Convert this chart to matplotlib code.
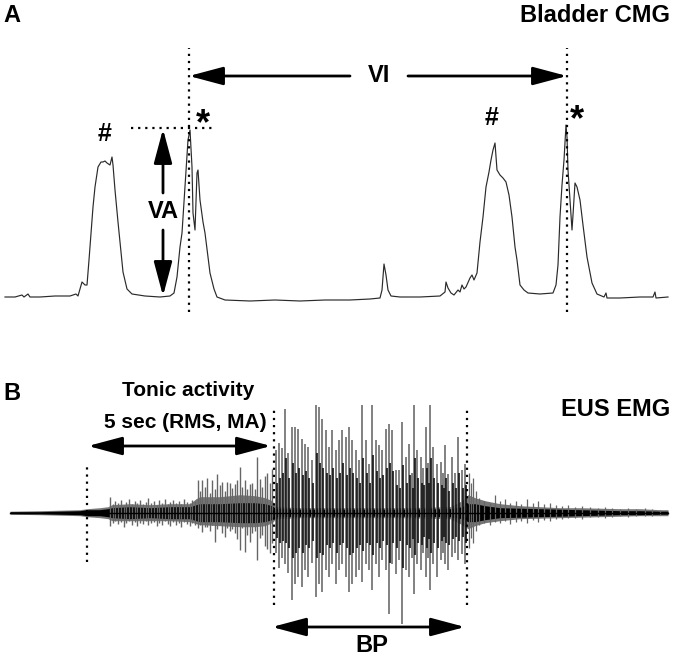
import numpy as np
import matplotlib
matplotlib.use('Agg')
import matplotlib.pyplot as plt

plt.rcParams['font.family'] = ['Liberation Sans', 'DejaVu Sans']

# Bladder CMG trace (sample index, pressure above baseline)
cmg_t = [5, 15, 22, 24, 28, 30, 40, 55, 70, 76, 78, 82, 85, 87, 89, 91, 93, 95, 98,
         101, 103, 105, 107, 110, 112, 113, 115, 118, 120, 123, 127, 132, 145, 160,
         170, 174, 177, 180, 182, 185, 188, 190, 192, 193, 195, 197, 198, 200, 203,
         205, 208, 210, 214, 217, 225, 250, 275, 300, 325, 350, 370, 380, 382, 384,
         386, 388, 391, 400, 420, 440, 445, 446, 448, 451, 454, 458, 460, 462, 464,
         466, 470, 472, 474, 477, 480, 483, 486, 489, 491, 493, 495, 497, 500, 503,
         506, 509, 512, 515, 517, 520, 524, 528, 540, 553, 556, 558, 560, 562, 564,
         566, 567, 568, 570, 572, 573, 575, 577, 580, 583, 587, 592, 597, 604, 606,
         607, 620, 640, 653, 655, 656, 668]
cmg_p = [0, 0, 2, 0, 3, 0, 0, 1, 1, 3, 1, 15, 12, 12, 37, 64, 90, 110, 130,
         135, 135, 136, 134, 132, 140, 132, 107, 75, 55, 25, 8, 3, 1, 0,
         1, 4, 20, 50, 64, 110, 157, 167, 130, 84, 67, 124, 127, 97, 75,
         64, 40, 24, 8, 0, -3, -4, -3, -4, -3, -3, -2, -1, 7, 33,
         22, 7, 1, 0, 0, 1, 5, 15, 9, 4, 2, 7, 5, 12, 8,
         10, 19, 22, 17, 24, 55, 80, 110, 125, 137, 147, 154, 127, 122, 119,
         115, 102, 80, 50, 37, 12, 7, 4, 3, 4, 12, 32, 80, 112, 137,
         172, 160, 127, 97, 67, 82, 114, 110, 97, 72, 40, 14, 3, 0, 4,
         -1, -1, 0, 0, 5, -1, 0]

# EUS EMG: dense activity envelope (sample index, amplitude)
env_t = [10, 40, 60, 80, 87, 100, 108, 112, 130, 150, 170, 190, 196, 200, 220, 240,
         255, 265, 272, 276, 300, 350, 400, 450, 462, 468, 475, 485, 500, 520, 540,
         560, 580, 600, 620, 640, 660, 668]
env_core = [1, 1, 1.5, 2, 3, 3, 4, 5, 6, 5, 6, 6, 8, 9, 9, 10,
            10, 9, 7, 4, 3.5, 3.5, 3.5, 4, 6, 9, 9, 7, 5, 4.5, 4,
            3.5, 3, 2.5, 2, 2, 1.5, 1.5]
env_up = [1.5, 2, 2.5, 3, 4, 5, 6, 8, 9, 8, 9, 9, 14, 16, 16, 18,
          17, 15, 12, 6, 5, 5, 5, 6, 12, 18, 15, 12, 9, 7, 6,
          5, 5, 4.5, 4, 4, 3, 3]
env_dn = [1.5, 2, 2.5, 3, 4, 5, 6, 8, 8, 8, 8, 9, 11, 12, 13, 14,
          14, 13, 10, 6, 5, 5, 5, 6, 12, 16, 13, 10, 8, 6, 5.5,
          5, 4.5, 4, 3.5, 3, 3, 3]

# small tonic spikes (early tonic phase)
tonic2_t = [110, 113, 115, 118, 121, 124, 126, 129, 132, 135, 137, 140, 143, 146, 148,
            151, 154, 157, 159, 162, 165, 168, 170, 173, 176, 179, 181, 184, 187, 190,
            192, 195]
tonic2_up = [16, 9, 12, 10, 13, 8, 11, 14, 9, 12, 10, 13, 9, 11, 15,
             10, 12, 8, 13, 10, 14, 9, 11, 13, 10, 12, 9, 14, 11, 10, 13, 12]
tonic2_dn = [13, 10, 8, 11, 9, 14, 10, 8, 12, 9, 13, 10, 11, 8, 12,
             10, 9, 13, 10, 12, 8, 11, 13, 9, 12, 10, 14, 9, 11, 13, 10, 12]

# larger tonic spikes before the burst
tonic_t = [198, 200, 202, 205, 207, 210, 212, 215, 217, 220, 222, 225, 227, 230, 232,
           235, 237, 240, 242, 245, 247, 250, 252, 255, 257, 260, 262, 265, 267, 270,
           272]
tonic_up = [33, 22, 33, 26, 35, 20, 33, 24, 39, 28, 31, 22, 31, 30, 25,
            29, 33, 46, 26, 33, 24, 29, 30, 24, 56, 34, 26, 37, 40, 30, 44]
tonic_dn = [15, 12, 19, 14, 14, 18, 12, 29, 16, 12, 20, 24, 15, 18, 16,
            20, 26, 37, 15, 39, 22, 29, 20, 18, 47, 25, 22, 33, 36, 40, 30]

# bursting period spikes: tall (grey) and inner (black) lobes
burst_t = [276, 279, 282, 285, 288, 292, 295, 298, 302, 305,
           308, 312, 316, 319, 322, 326, 329, 332, 336, 339,
           342, 346, 349, 352, 356, 359, 362, 366, 369, 372,
           376, 379, 382, 386, 389, 392, 396, 399, 402, 406,
           409, 412, 414, 417, 421, 423, 426, 428, 430, 433,
           437, 441, 443, 445, 448, 452, 455, 458, 462, 465]
burst_up = [63, 70, 65, 104, 60, 86, 86, 84, 74, 69,
            66, 53, 108, 106, 94, 83, 66, 83, 63, 73,
            83, 76, 86, 73, 63, 53, 108, 73, 49, 108,
            73, 68, 63, 84, 89, 83, 43, 43, 91, 56,
            69, 40, 108, 63, 56, 45, 86, 50, 108, 66,
            49, 51, 40, 68, 39, 56, 40, 76, 43, 49]
burst_dn = [40, 55, 45, 51, 60, 87, 71, 64, 74, 57,
            64, 50, 84, 71, 79, 57, 64, 51, 71, 57,
            51, 64, 79, 71, 64, 57, 69, 51, 57, 77,
            51, 64, 47, 57, 101, 51, 61, 47, 111, 57,
            64, 45, 81, 51, 57, 40, 64, 45, 77, 51,
            64, 47, 40, 51, 57, 44, 40, 47, 41, 51]
burst_up_in = [30, 35, 40, 55, 35, 50, 40, 45, 38, 42,
               35, 30, 60, 50, 45, 40, 38, 45, 35, 40,
               50, 38, 45, 40, 35, 30, 55, 40, 30, 58,
               42, 35, 38, 45, 50, 42, 28, 25, 48, 30,
               38, 25, 55, 35, 30, 28, 45, 30, 55, 35,
               30, 28, 25, 35, 22, 30, 25, 40, 25, 28]
burst_dn_in = [25, 30, 28, 30, 35, 45, 40, 35, 40, 32,
               35, 28, 45, 40, 42, 32, 35, 30, 40, 32,
               30, 35, 42, 40, 35, 32, 38, 30, 32, 42,
               30, 35, 28, 32, 50, 30, 35, 28, 55, 32,
               35, 26, 42, 30, 32, 24, 35, 26, 40, 30,
               35, 28, 24, 30, 32, 26, 24, 28, 24, 30]

# activity after the burst
post_t = [469, 471, 473, 476, 479, 484, 490, 495, 500, 505, 510, 516, 521, 527,
          533, 538, 544, 550, 556, 562, 568, 575, 582, 590, 598, 605, 612, 620,
          628, 636, 645, 652, 660]
post_up = [40, 30, 35, 22, 15, 12, 10, 18, 12, 14, 10, 12, 9, 14,
           10, 12, 9, 10, 8, 7, 8, 6, 7, 6, 5, 6, 5, 4, 5, 4, 5, 4, 3]
post_dn = [35, 25, 30, 18, 12, 10, 12, 9, 10, 8, 11, 9, 8, 10,
           7, 9, 7, 8, 6, 6, 5, 5, 6, 4, 4, 5, 4, 3, 4, 3, 3, 3, 2]

fig = plt.figure(figsize=(6.75, 6.59), dpi=100)

# ---------------- Panel A: CMG ----------------
ax1 = fig.add_axes([0, 339 / 659, 1, 320 / 659])
ax1.set_xlim(0, 675)
ax1.set_ylim(-23, 297)
ax1.axis('off')
ax1.plot(cmg_t, cmg_p, color='#2a2a2a', lw=0.85)

dot = dict(color='black', ls=(0, (1, 2.2)), lw=1.6)
for xv in (189, 567):
    ax1.plot([xv, xv], [-15, 249], **dot)
ax1.plot([131, 216], [169, 169], **dot)

arr = dict(arrowstyle='-|>,head_length=1.05,head_width=0.28', color='black',
           lw=2, mutation_scale=20, shrinkA=0, shrinkB=0)
ax1.annotate('', xy=(189, 221), xytext=(350, 221), arrowprops=arr)
ax1.annotate('', xy=(567, 221), xytext=(408, 221), arrowprops=arr)
ax1.text(379, 221, 'VI', ha='center', va='center', fontsize=17, fontweight='bold')
ax1.annotate('', xy=(163, 168), xytext=(163, 104), arrowprops=arr)
ax1.annotate('', xy=(163, 1), xytext=(163, 67), arrowprops=arr)
ax1.text(163, 85, 'VA', ha='center', va='center', fontsize=17, fontweight='bold')

ax1.text(105, 163, '#', ha='center', va='center', fontsize=18, fontweight='bold')
ax1.text(492, 179, '#', ha='center', va='center', fontsize=18, fontweight='bold')
ax1.text(203, 172, '*', ha='center', va='center', fontsize=26, fontweight='bold')
ax1.text(577, 176, '*', ha='center', va='center', fontsize=26, fontweight='bold')

ax1.text(3, 282, 'A', ha='left', va='center', fontsize=17, fontweight='bold')
ax1.text(670, 282, 'Bladder CMG', ha='right', va='center', fontsize=17,
         fontweight='bold')

# ---------------- Panel B: EMG ----------------
ax2 = fig.add_axes([0, 0, 1, 329 / 659])
ax2.set_xlim(0, 675)
ax2.set_ylim(-146.3, 182.7)
ax2.axis('off')

env_t_a = np.array(env_t)
ax2.fill_between(env_t_a, -np.array(env_dn), np.array(env_up), color='#777777', lw=0)
ax2.vlines(tonic2_t, -np.array(tonic2_dn), np.array(tonic2_up), color='#666666', lw=1.0)
ax2.vlines(tonic_t, -np.array(tonic_dn), np.array(tonic_up), color='#666666', lw=1.0)
ax2.vlines(post_t, -np.array(post_dn), np.array(post_up), color='#666666', lw=0.9)
ax2.vlines(burst_t, -np.array(burst_dn), np.array(burst_up), color='#777777', lw=1.3)
ax2.vlines(np.array(burst_t) + 1.3, -np.array(burst_dn_in), np.array(burst_up_in),
           color='#111111', lw=1.2)
ax2.fill_between(env_t_a, -np.array(env_core), np.array(env_core), color='black', lw=0)
ax2.plot([10, 668], [0, 0], color='black', lw=1.0)

ax2.plot([87, 87], [-49, 48], **dot)
for xv in (274, 467):
    ax2.plot([xv, xv], [-92, 105], **dot)

arr2 = dict(arrowstyle='<|-|>,head_length=1.05,head_width=0.28', color='black',
            lw=2, mutation_scale=20, shrinkA=0, shrinkB=0)
ax2.annotate('', xy=(88, 66.7), xytext=(271, 66.7), arrowprops=arr2)
ax2.annotate('', xy=(272, -114.3), xytext=(465, -114.3), arrowprops=arr2)

ax2.text(3, 119.7, 'B', ha='left', va='center', fontsize=17, fontweight='bold')
ax2.text(188, 121.7, 'Tonic activity', ha='center', va='center', fontsize=15,
         fontweight='bold')
ax2.text(185, 90.7, '5 sec (RMS, MA)', ha='center', va='center', fontsize=15,
         fontweight='bold')
ax2.text(670, 102.7, 'EUS EMG', ha='right', va='center', fontsize=17,
         fontweight='bold')
ax2.text(372, -133.3, 'BP', ha='center', va='center', fontsize=17, fontweight='bold')

fig.savefig('out.png', dpi=100)
